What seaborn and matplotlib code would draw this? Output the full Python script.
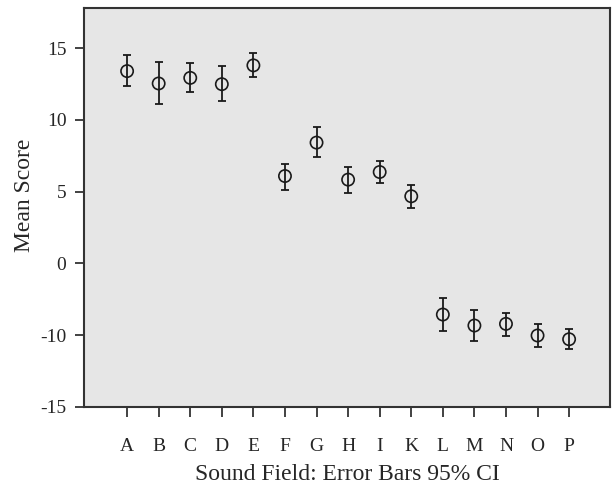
import numpy as np
import pandas as pd
import matplotlib
matplotlib.use("Agg")
import matplotlib.pyplot as plt
import seaborn as sns

# categories and 95% CI
fields = ['A', 'B', 'C', 'D', 'E', 'F', 'G', 'H', 'I', 'K', 'L', 'M', 'N', 'O', 'P']
mean_score = [13.40, 12.54, 12.93, 12.49, 13.80, 6.09, 8.42, 5.84, 6.37, 4.68,
              -7.12, -8.65, -8.42, -10.02, -10.28]
ci_low = [12.37, 11.10, 11.97, 11.30, 12.97, 5.09, 7.40, 4.90, 5.60, 3.89,
          -9.39, -10.39, -10.05, -10.81, -10.95]
ci_high = [14.51, 14.05, 13.94, 13.75, 14.63, 6.91, 9.49, 6.74, 7.16, 5.49,
           -4.84, -6.46, -6.88, -8.42, -9.07]
y_ticks = [15, 10, 5, 0, -10, -15]

df = pd.DataFrame({'field': fields, 'mean': mean_score, 'lo': ci_low, 'hi': ci_high})


# the original axis is squeezed between 0 and -10
def fwd(v):
    v = np.asarray(v, dtype=float)
    return np.where(v >= 0, v, np.where(v >= -10, v / 2, v + 5))


def inv(p):
    p = np.asarray(p, dtype=float)
    return np.where(p >= 0, p, np.where(p >= -5, p * 2, p - 5))


sns.set_style("white")
plt.rcParams['font.family'] = ['Liberation Serif', 'DejaVu Serif']

fig = plt.figure(figsize=(6.12, 4.86), dpi=100)
ax = fig.add_axes([0.137, 0.1626, 0.86, 0.821])
ax.set_facecolor('#e6e6e6')

ax.set_yscale('function', functions=(fwd, inv))

x = np.arange(len(fields))
ax.errorbar(x, df['mean'], yerr=[df['mean'] - df['lo'], df['hi'] - df['mean']],
            fmt='none', ecolor='#1a1a1a', elinewidth=1.3, capsize=3, capthick=1.3, zorder=2)
sns.scatterplot(x=x, y=df['mean'], ax=ax, s=78, marker='o', facecolor='none',
                edgecolor='#1a1a1a', linewidth=1.2, zorder=3)

ax.set_xlim(-1.37, 15.3)
ax.set_ylim(-15, 17.8)
ax.set_xticks(x)
ax.set_xticklabels(fields)
ax.set_yticks(y_ticks)
ax.set_yticklabels([str(t) for t in y_ticks])
ax.minorticks_off()

for s in ax.spines.values():
    s.set_color('#333333')
    s.set_linewidth(1.5)
ax.tick_params(axis='y', direction='out', length=6.5, width=1.3, color='#333333',
               labelsize=14, pad=6, left=True)
ax.tick_params(axis='x', direction='out', length=7.5, width=1.3, color='#333333',
               labelsize=14, pad=15, bottom=True)

ax.set_xlabel('Sound Field: Error Bars 95% CI', fontsize=17, labelpad=6)
ax.set_ylabel('Mean Score', fontsize=17)
ax.yaxis.set_label_coords(-0.093, 0.531)

fig.savefig('out.png', dpi=100)
